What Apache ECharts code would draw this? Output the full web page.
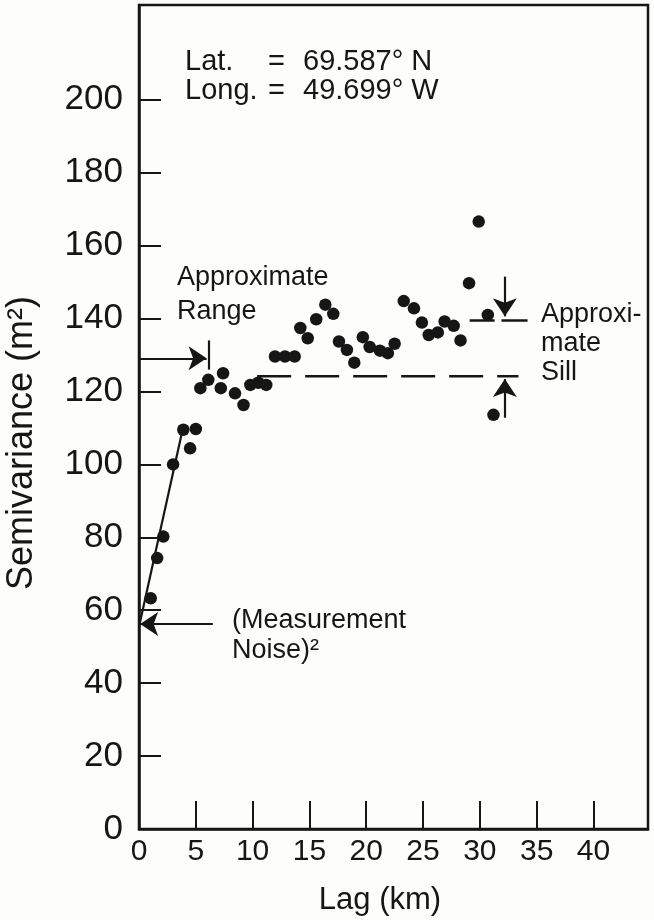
<!DOCTYPE html>
<html><head><meta charset="utf-8">
<script src="https://cdn.jsdelivr.net/npm/echarts@6/dist/echarts.min.js"></script>
<style>html,body{margin:0;padding:0;background:#fdfdfb}#c{width:654px;height:920px}</style>
</head><body><div id="c"></div>
<script>
// Observed semivariogram points
const lagKm = [1.03, 1.6, 2.14, 3.0, 3.9, 4.5, 5.0, 5.4, 6.1, 7.2, 7.4, 8.45, 9.2, 9.8, 10.5, 11.2,
  11.97, 12.85, 13.7, 14.2, 14.85, 15.6, 16.4, 17.1, 17.6, 18.3, 18.95, 19.7, 20.3, 21.2, 21.9, 22.5,
  23.3, 24.2, 24.9, 25.5, 26.3, 26.9, 27.7, 28.3, 29.05, 29.9, 30.7, 31.2];
const semivariance = [63.3, 74.3, 80.2, 100.0, 109.5, 104.4, 109.7, 120.9, 123.2, 120.9, 125.0, 119.5, 116.3, 121.8, 122.4, 121.8,
  129.6, 129.6, 129.6, 137.4, 134.6, 139.8, 143.8, 141.3, 133.7, 131.4, 127.9, 134.9, 132.2, 131.2, 130.5, 133.1,
  144.8, 142.8, 138.9, 135.5, 136.2, 139.2, 138.0, 134.0, 149.7, 166.6, 141.0, 113.6];
// Fitted initial slope line
const fitLag = [0, 3.8];
const fitValue = [55.5, 109];
// Approximate sill (dashed) and upper sill marks
const sillLag = [10.4, 33.4];
const sillValue = 124.2;
const upperMarkLag = [[29.1, 31.3], [31.9, 34.2]];
const upperMarkValue = 139.6;
// Annotation arrows (data space)
const rangeArrow = [[0, 129.1], [5.95, 129.1]];
const rangeTick = [[6.15, 126], [6.15, 134]];
const noiseArrow = [[6.5, 56.2], [0.1, 56.2]];
const sillDownArrow = [[32.2, 151.5], [32.2, 140.6]];
const sillUpArrow = [[32.2, 112.8], [32.2, 123.4]];
// Axis ticks / labels
const xTickLabels = [0, 5, 10, 15, 20, 25, 30, 35, 40];
const xTickMarks = [5, 10, 15, 20, 25, 30, 35, 40];
const yTickLabels = [0, 20, 40, 60, 80, 100, 120, 140, 160, 180, 200];
const yTickMarks = [20, 40, 60, 80, 100, 120, 140, 160, 180, 200];

const ink = '#161616';
const FONT = '"Liberation Sans", Arial, sans-serif';
const chart = echarts.init(document.getElementById('c'), null, {renderer: 'canvas'});

const pts = lagKm.map((x, i) => [x, semivariance[i]]);
const fitPts = fitLag.map((x, i) => [x, fitValue[i]]);
const arrowSeries = (coords) => ({
  type: 'lines', coordinateSystem: 'cartesian2d', silent: true,
  symbol: ['none', 'arrow'], symbolSize: 18,
  lineStyle: {color: ink, width: 2.2, opacity: 1, curveness: 0},
  data: [{coords}]
});
const plainLines = (list, width) => ({
  type: 'lines', coordinateSystem: 'cartesian2d', silent: true,
  symbol: ['none', 'none'],
  lineStyle: {color: ink, width, opacity: 1},
  data: list.map(c => ({coords: c}))
});
const T = (x, y, text, size) => ({type: 'text', x, y, style: {text, font: size + 'px ' + FONT, fill: ink, textVerticalAlign: 'middle', verticalAlign: 'middle'}});

chart.setOption({
  animation: false,
  backgroundColor: '#fdfdfb',
  textStyle: {fontFamily: FONT},
  grid: {left: 139, right: 6, top: 5, bottom: 91, show: true, borderColor: ink, borderWidth: 2.5, outerBoundsMode: 'none'},
  xAxis: {
    type: 'value', min: 0, max: 44.8, interval: 5,
    axisLine: {lineStyle: {color: ink, width: 2.5}},
    axisTick: {inside: true, length: 28, lineStyle: {color: ink, width: 2}, customValues: xTickMarks},
    axisLabel: {color: ink, fontSize: 30, margin: 8, fontFamily: FONT, customValues: xTickLabels},
    splitLine: {show: false}
  },
  yAxis: {
    type: 'value', min: 0, max: 226, interval: 20,
    axisLine: {lineStyle: {color: ink, width: 2.5}},
    axisTick: {inside: true, length: 22, lineStyle: {color: ink, width: 2}, customValues: yTickMarks},
    axisLabel: {color: ink, fontSize: 35, margin: 16, fontFamily: FONT, customValues: yTickLabels},
    splitLine: {show: false}
  },
  series: [
    {type: 'line', data: fitPts, symbol: 'none', silent: true, lineStyle: {color: ink, width: 2.2}},
    {type: 'line', data: sillLag.map(x => [x, sillValue]), symbol: 'none', silent: true,
      lineStyle: {color: ink, width: 2.5, type: [34, 14]}},
    plainLines(upperMarkLag.map(r => [[r[0], upperMarkValue], [r[1], upperMarkValue]]), 2.5),
    plainLines([rangeTick], 2.2),
    arrowSeries(rangeArrow),
    arrowSeries(noiseArrow),
    arrowSeries(sillDownArrow),
    arrowSeries(sillUpArrow),
    {type: 'scatter', data: pts, symbolSize: 12.5, silent: true, itemStyle: {color: ink, opacity: 1}}
  ],
  graphic: [
    T(185, 62, 'Lat.', 29), T(268, 62, '=', 29), T(303, 62, '69.587° N', 29),
    T(185, 91, 'Long.', 29), T(268, 91, '=', 29), T(303, 91, '49.699° W', 29),
    T(177, 278, 'Approximate', 27), T(177, 312, 'Range', 27),
    T(541, 315, 'Approxi-', 27), T(541, 344, 'mate', 27), T(541, 373, 'Sill', 27),
    T(232, 621, '(Measurement', 27), T(232, 651, 'Noise)²', 27),
    {type: 'text', x: 380, y: 900, style: {text: 'Lag (km)', font: '31px ' + FONT, fill: ink, textAlign: 'center', align: 'center', textVerticalAlign: 'middle', verticalAlign: 'middle'}},
    {type: 'text', x: 22, y: 443, rotation: Math.PI / 2, style: {text: 'Semivariance (m²)', font: '36px ' + FONT, fill: ink, textAlign: 'center', align: 'center', textVerticalAlign: 'middle', verticalAlign: 'middle'}}
  ]
});
</script>
</body></html>
